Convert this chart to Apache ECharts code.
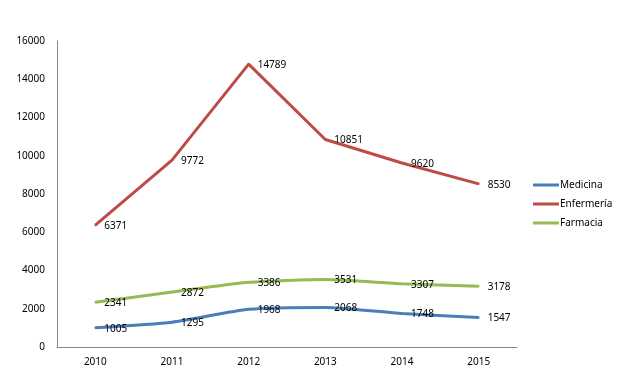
<!DOCTYPE html>
<html>
<head>
<meta charset="utf-8">
<script src="https://cdn.jsdelivr.net/npm/echarts@6/dist/echarts.min.js"></script>
<style>html,body{margin:0;padding:0;background:#fff}#c{width:620px;height:368px}</style>
</head>
<body>
<div id="c"></div>
<script>
var categories = ['2010', '2011', '2012', '2013', '2014', '2015'];
var medicina = [1005, 1295, 1968, 2068, 1748, 1547];
var enfermeria = [6371, 9772, 14789, 10851, 9620, 8530];
var farmacia = [2341, 2872, 3386, 3531, 3307, 3178];
var seriesNames = ['Medicina', 'Enfermería', 'Farmacia'];
var colors = ['#4A7EBB', '#BE4B48', '#98B954'];

var font = 'Noto Sans, DejaVu Sans, sans-serif';
function mk(name, data, color, smooth) {
  return {
    name: name, type: 'line', data: data, smooth: smooth,
    symbol: 'circle', symbolSize: 2, showSymbol: true,
    lineStyle: { color: color, width: 3 },
    itemStyle: { color: color },
    label: { show: true, position: 'right', distance: 8, offset: [0, 1], color: '#000', fontSize: 10, fontFamily: font },
    emphasis: { disabled: true }
  };
}
var chart = echarts.init(document.getElementById('c'), null, { renderer: 'canvas' });
chart.setOption({
  animation: false,
  backgroundColor: '#fff',
  color: colors,
  grid: { left: 57, right: 103, top: 41, bottom: 21, containLabel: false },
  legend: {
    orient: 'vertical', left: 528, top: 175,
    itemWidth: 26, itemHeight: 3, itemGap: 9, icon: 'rect',
    textStyle: { fontSize: 10, color: '#000', fontFamily: font, padding: [0, 0, 0, -4] },
    data: seriesNames
  },
  xAxis: {
    type: 'category', data: categories, boundaryGap: true,
    axisLine: { lineStyle: { color: '#888', width: 1 } },
    axisTick: { show: false },
    axisLabel: { color: '#000', fontSize: 10, fontFamily: font, margin: 10 }
  },
  yAxis: {
    type: 'value', min: 0, max: 16000, interval: 2000,
    axisLine: { show: true, lineStyle: { color: '#888', width: 1 } },
    axisTick: { show: false },
    splitLine: { show: false },
    axisLabel: { color: '#000', fontSize: 10, fontFamily: font, margin: 12, formatter: function (v) { return String(v); } }
  },
  series: [
    mk(seriesNames[0], medicina, colors[0], 0.2),
    mk(seriesNames[1], enfermeria, colors[1], false),
    mk(seriesNames[2], farmacia, colors[2], 0.2)
  ]
});
</script>
</body>
</html>
